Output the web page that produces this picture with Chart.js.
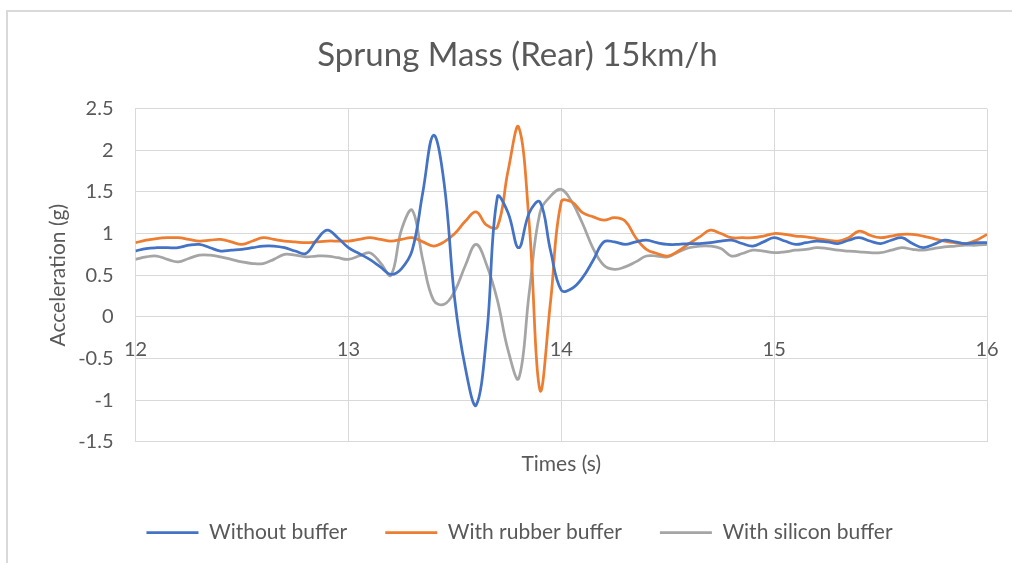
<!DOCTYPE html>
<html>
<head>
<meta charset="utf-8">
<script src="https://cdn.jsdelivr.net/npm/chart.js@4.4.1/dist/chart.umd.min.js"></script>
<style>
  body { margin: 0; background: #fff; }
  #frame { position: absolute; left: 6px; top: 10px; width: 1100px; height: 700px; border: 2px solid #d9d9d9; }
  #wrap { position: absolute; left: 0; top: 0; width: 1012px; height: 563px; }
</style>
</head>
<body>
<div id="frame"></div>
<div id="wrap"><canvas id="springChart"></canvas></div>
<script>
// time (s), sampled every 0.05 s
let times = [
  12.00, 12.05, 12.10, 12.15, 12.20, 12.25, 12.30, 12.35, 12.40, 12.45,
  12.50, 12.55, 12.60, 12.65, 12.70, 12.75, 12.80, 12.85, 12.90, 12.95,
  13.00, 13.05, 13.10, 13.15, 13.20, 13.25, 13.30, 13.35, 13.40, 13.45,
  13.50, 13.55, 13.60, 13.65, 13.70, 13.75, 13.80, 13.85, 13.90, 13.95,
  14.00, 14.05, 14.10, 14.15, 14.20, 14.25, 14.30, 14.35, 14.40, 14.45,
  14.50, 14.55, 14.60, 14.65, 14.70, 14.75, 14.80, 14.85, 14.90, 14.95,
  15.00, 15.05, 15.10, 15.15, 15.20, 15.25, 15.30, 15.35, 15.40, 15.45,
  15.50, 15.55, 15.60, 15.65, 15.70, 15.75, 15.80, 15.85, 15.90, 15.95,
  16.00
];

// acceleration (g)
let withoutBuffer = [
  0.79, 0.82, 0.83, 0.83, 0.83, 0.86, 0.87, 0.83, 0.79, 0.80,
  0.81, 0.83, 0.85, 0.85, 0.83, 0.79, 0.76, 0.92, 1.04, 0.95,
  0.83, 0.76, 0.69, 0.60, 0.51, 0.58, 0.80, 1.50, 2.18, 1.60,
  0.20, -0.62, -1.06, -0.21, 1.44, 1.25, 0.83, 1.25, 1.38, 0.79,
  0.32, 0.34, 0.47, 0.68, 0.90, 0.90, 0.87, 0.90, 0.92, 0.89,
  0.87, 0.87, 0.88, 0.88, 0.89, 0.91, 0.92, 0.88, 0.85, 0.90,
  0.95, 0.91, 0.87, 0.89, 0.91, 0.90, 0.88, 0.92, 0.95, 0.91,
  0.88, 0.92, 0.95, 0.88, 0.83, 0.87, 0.92, 0.90, 0.88, 0.89,
  0.89
];

let rubberBuffer = [
  0.89, 0.92, 0.94, 0.95, 0.95, 0.93, 0.91, 0.92, 0.93, 0.90,
  0.87, 0.91, 0.95, 0.93, 0.91, 0.90, 0.89, 0.90, 0.91, 0.91,
  0.91, 0.93, 0.95, 0.93, 0.91, 0.93, 0.95, 0.90, 0.85, 0.90,
  1.00, 1.15, 1.26, 1.10, 1.08, 1.75, 2.28, 1.10, -0.88, 0.19,
  1.38, 1.38, 1.25, 1.20, 1.16, 1.19, 1.15, 0.95, 0.81, 0.76,
  0.73, 0.79, 0.88, 0.96, 1.04, 1.00, 0.95, 0.95, 0.95, 0.97,
  1.00, 0.99, 0.97, 0.96, 0.94, 0.92, 0.91, 0.95, 1.03, 0.98,
  0.95, 0.97, 0.99, 0.99, 0.97, 0.94, 0.91, 0.89, 0.88, 0.92,
  0.99
];

let siliconBuffer = [
  0.69, 0.72, 0.73, 0.69, 0.66, 0.70, 0.74, 0.74, 0.72, 0.69,
  0.66, 0.64, 0.64, 0.69, 0.75, 0.74, 0.72, 0.73, 0.73, 0.71,
  0.69, 0.73, 0.77, 0.65, 0.50, 1.05, 1.28, 0.68, 0.20, 0.15,
  0.31, 0.62, 0.87, 0.62, 0.20, -0.40, -0.74, 0.30, 1.25, 1.45,
  1.53, 1.38, 1.12, 0.82, 0.62, 0.57, 0.60, 0.66, 0.73, 0.73,
  0.72, 0.78, 0.83, 0.85, 0.85, 0.82, 0.73, 0.76, 0.80, 0.79,
  0.77, 0.78, 0.80, 0.81, 0.83, 0.82, 0.80, 0.79, 0.78, 0.77,
  0.77, 0.80, 0.83, 0.81, 0.80, 0.82, 0.84, 0.85, 0.86, 0.86,
  0.87
];

let seriesNames = ['Without buffer', 'With rubber buffer', 'With silicon buffer'];
let seriesColors = ['#4472C4', '#ED7D31', '#A5A5A5'];

let fontFamily = 'Lato, "Liberation Sans", sans-serif';
let textColor = '#595959';
let gridColor = '#d9d9d9';

function toPoints(values) {
  return values.map((v, i) => ({ x: times[i], y: v }));
}

// the Excel frame runs past the right edge, so title and legend sit a bit right of centre
let shiftTitleLegend = {
  id: 'shiftTitleLegend',
  afterLayout(chart) {
    chart.titleBlock.left += 19;
    chart.titleBlock.right += 19;
    chart.legend.left += 21;
    chart.legend.right += 21;
  }
};

let springCtx = document.getElementById('springChart').getContext('2d');

let springChart = new Chart(springCtx, {
  type: 'line',
  data: {
    datasets: [withoutBuffer, rubberBuffer, siliconBuffer].map((vals, i) => ({
      label: seriesNames[i],
      data: toPoints(vals),
      xAxisID: 'x',
      borderColor: seriesColors[i],
      backgroundColor: seriesColors[i],
      borderWidth: 2.75,
      pointRadius: 0,
      tension: 0.4,
      fill: false
    }))
  },
  plugins: [shiftTitleLegend],
  options: {
    responsive: true,
    maintainAspectRatio: false,
    animation: false,
    layout: {
      padding: { left: 10, right: 25, top: 0, bottom: 10 }
    },
    scales: {
      x: {
        type: 'linear',
        position: 'bottom',
        min: 12,
        max: 16,
        ticks: { display: false, stepSize: 1 },
        grid: { color: gridColor, drawTicks: false },
        border: { color: gridColor },
        title: {
          display: true,
          text: 'Times (s)',
          color: textColor,
          font: { family: fontFamily, size: 21 },
          padding: { top: 10, bottom: 7 }
        }
      },
      x2: {
        type: 'linear',
        axis: 'x',
        position: { y: 0 },
        min: 12,
        max: 16,
        afterFit: function(scale) { scale.paddingLeft = 0; scale.paddingRight = 0; },
        grid: { display: false, drawTicks: false },
        border: { display: false },
        ticks: {
          stepSize: 1,
          color: textColor,
          padding: 21,
          font: { family: fontFamily, size: 20 }
        }
      },
      y: {
        min: -1.5,
        max: 2.5,
        afterFit: function(scale) { scale.width = 125.5; },
        ticks: {
          stepSize: 0.5,
          color: textColor,
          padding: 22,
          font: { family: fontFamily, size: 20 },
          callback: function(v) { return String(v); }
        },
        grid: { color: gridColor, drawTicks: false },
        border: { color: gridColor },
        title: {
          display: true,
          text: 'Acceleration (g)',
          color: textColor,
          font: { family: fontFamily, size: 21 },
          padding: { top: 36, bottom: 0 }
        }
      }
    },
    plugins: {
      title: {
        display: true,
        text: 'Sprung Mass (Rear) 15km/h',
        color: textColor,
        font: { family: fontFamily, size: 33, weight: 'normal' },
        padding: { top: 36, bottom: 33 }
      },
      legend: {
        position: 'bottom',
        labels: {
          usePointStyle: true,
          pointStyle: 'line',
          pointStyleWidth: 52,
          color: textColor,
          padding: 38,
          font: { family: fontFamily, size: 21 }
        }
      },
      tooltip: { enabled: false }
    }
  }
});

springChart.render();
</script>
</body>
</html>
